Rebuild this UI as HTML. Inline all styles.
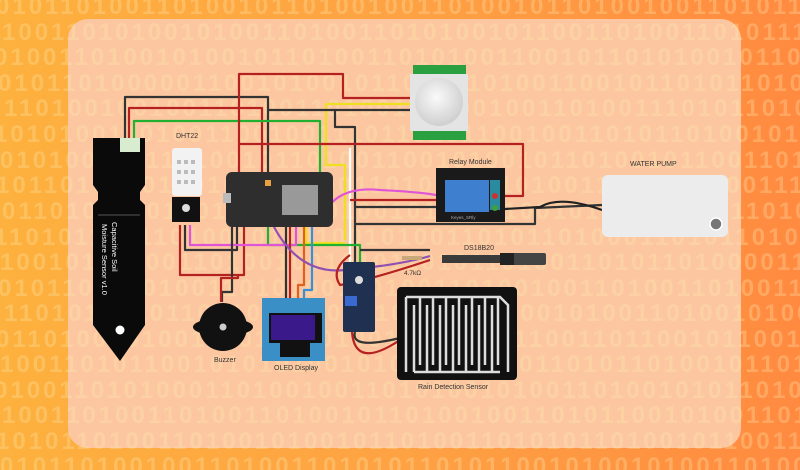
<!DOCTYPE html>
<html><head><meta charset="utf-8"><style>
html,body{margin:0;padding:0;width:800px;height:470px;overflow:hidden}
svg{display:block}
text{font-family:"Liberation Sans",sans-serif}
</style></head><body>
<svg width="800" height="470" viewBox="0 0 800 470" xmlns="http://www.w3.org/2000/svg">
<defs>
<linearGradient id="bg" x1="0" y1="0" x2="1" y2="0">
<stop offset="0" stop-color="#fdb13e"/><stop offset="0.5" stop-color="#fea243"/><stop offset="1" stop-color="#ff8a40"/>
</linearGradient>
<radialGradient id="dome" cx="0.45" cy="0.4" r="0.6"><stop offset="0" stop-color="#fafafa"/><stop offset="1" stop-color="#cfcfcf"/></radialGradient>
</defs>
<rect width="800" height="470" fill="url(#bg)"/>
<rect x="68" y="19" width="673" height="429" rx="20" fill="#fcc7a0"/>
<g font-weight="bold" font-size="24" fill="#ffe9b0" opacity="0.3" letter-spacing="3">
<text x="-4" y="14">0101101001101001011010010011010010110100100110101101</text>
<text x="2" y="40">1001101010010100110100110101001011001101001101011100</text>
<text x="-6" y="65">0100110100101001011010011010100110010110101001011010</text>
<text x="-2" y="91">0101101000001100101001011011010100110010110101101001</text>
<text x="4" y="116">1101001001001101001101001101001001101001110101101010</text>
<text x="-6" y="142">1010100110100110010011101101011001001101011010010110</text>
<text x="0" y="168">0101001101101001011010011001010010110100101100110101</text>
<text x="-4" y="193">1011010010100101010100110101001101001100101010011100</text>
<text x="2" y="219">0110100110100110010101001011010100101011001001101001</text>
<text x="-6" y="245">1101011001101001011010010100110101101000110101101010</text>
<text x="0" y="270">1001011010011010010010101101011010011010110100001101</text>
<text x="-2" y="296">0101100110100110101001101001101001001101001101001101</text>
<text x="4" y="321">1101010010110010110100110101001100101001101001010011</text>
<text x="-4" y="347">0110100101001100101101001101001011001101100101100110</text>
<text x="0" y="372">1001101011001010101001010110101001101011010010110101</text>
<text x="-6" y="398">0100110101000110100100110101001010011010010101101001</text>
<text x="2" y="423">1001101001101001101001011010010011010110010100110100</text>
<text x="-4" y="449">1010110100110100101001011010011010101101001011001101</text>
<text x="0" y="474">0101101001001101001101010110101100101001010011010010</text>
</g>

<!-- wires -->
<g fill="none" stroke-width="2.2" stroke-linejoin="round">
<polyline points="125,140 125,97 268,97 268,172" stroke="#333"/>
<polyline points="129,140 129,108 262,108 262,172" stroke="#b52020"/>
<polyline points="134,140 134,121 320,121 320,172" stroke="#22b030"/>
<polyline points="239,172 239,74 343,74 343,98 410,98" stroke="#b52020"/>
<polyline points="410,104 326,104 326,165 345,165 345,240" stroke="#eee020"/>
<polyline points="410,110 268,110" stroke="#333"/>
<polyline points="335,110 335,127 355,127 355,330" stroke="#333"/>
<polyline points="239,144 523,144 523,196 505,196" stroke="#b52020"/>
<polyline points="350,148 350,330" stroke="#fff"/>
<polyline points="350,200 436,200" stroke="#b52020"/>
<polyline points="355,207 436,207" stroke="#333"/>
<polyline points="355,224 535,224 535,208 602,205" stroke="#333"/>
<path d="M505,209 L540,207 Q560,195 602,210" stroke="#222"/>
<path d="M320,225 Q330,185 380,190 Q420,192 436,195" stroke="#e055d8"/>
<polyline points="306,227 306,243 345,243" stroke="#eee020"/>
<polyline points="268,227 268,245 360,245 360,262" stroke="#22b030"/>
<polyline points="244,227 244,275 180,275 180,225" stroke="#b52020"/>
<polyline points="237,227 237,250 185,250 185,225" stroke="#333"/>
<polyline points="296,227 296,245 190,245 190,225" stroke="#e055d8"/>
<polyline points="232,227 232,292 222,292 222,302" stroke="#333"/>
<polyline points="238,275 238,278 221,278 221,302" stroke="#b52020"/>
<polyline points="286,227 286,300" stroke="#333"/>
<polyline points="290,227 290,300" stroke="#b52020"/>
<polyline points="304,227 304,285 298,285 298,300" stroke="#e06020"/>
<polyline points="312,227 312,290 304,290 304,300" stroke="#3a8fd8"/>
<path d="M274,227 Q300,275 345,270 Q400,265 430,256" stroke="#9050b0"/>
<path d="M350,255 Q330,270 340,285 Q370,280 430,260" stroke="#b52020"/>
<polyline points="360,250 430,250" stroke="#333"/>
<path d="M355,332 Q350,350 400,338" stroke="#333"/>
<path d="M352,332 Q355,370 400,340" stroke="#b52020"/>
</g>

<!-- soil sensor -->
<path d="M93,138 H145 V185 L140,192 V200 L145,205 V325 L120,361 L93,325 V205 L98,200 V192 L93,185 Z" fill="#0a0a0a"/>
<rect x="120" y="138" width="20" height="14" fill="#d8ecd0"/>
<line x1="98" y1="215" x2="140" y2="215" stroke="#555"/>
<text transform="translate(112,222) rotate(90)" font-size="7.5" fill="#fff">Capacitive Soil</text>
<text transform="translate(102,224) rotate(90)" font-size="7.5" fill="#fff">Moisture Sensor v1.0</text>
<circle cx="120" cy="330" r="4.5" fill="#fff"/>
<!-- DHT22 -->
<text x="176" y="138" font-size="7" fill="#333">DHT22</text>
<rect x="172" y="148" width="30" height="48" rx="3" fill="#f2f2f2"/>
<g fill="#bbb"><rect x="177" y="160" width="4" height="4"/><rect x="184" y="160" width="4" height="4"/><rect x="191" y="160" width="4" height="4"/><rect x="177" y="170" width="4" height="4"/><rect x="184" y="170" width="4" height="4"/><rect x="191" y="170" width="4" height="4"/><rect x="177" y="180" width="4" height="4"/><rect x="184" y="180" width="4" height="4"/><rect x="191" y="180" width="4" height="4"/></g>
<rect x="172" y="197" width="28" height="25" fill="#111"/>
<circle cx="186" cy="208" r="4" fill="#ddd"/>
<!-- NodeMCU -->
<rect x="226" y="172" width="107" height="55" rx="6" fill="#2e2e2e"/>
<rect x="282" y="185" width="36" height="30" fill="#999"/>
<rect x="223" y="193" width="8" height="10" fill="#bbb"/>
<rect x="265" y="180" width="6" height="6" fill="#e8a040"/>
<!-- PIR -->
<rect x="413" y="65" width="53" height="10" fill="#2aa040"/>
<rect x="413" y="130" width="53" height="10" fill="#2aa040"/>
<rect x="410" y="74" width="58" height="57" fill="#e4e4e4"/>
<circle cx="439" cy="102" r="24" fill="url(#dome)"/>
<!-- Relay -->
<text x="449" y="164" font-size="7" fill="#333">Relay Module</text>
<rect x="436" y="168" width="69" height="54" fill="#1a1a1a"/>
<rect x="445" y="180" width="44" height="32" fill="#3e7fd0"/>
<rect x="490" y="180" width="10" height="30" fill="#2a8aa0"/>
<circle cx="495" cy="196" r="3" fill="#d03030"/><circle cx="495" cy="208" r="3" fill="#40a040"/>
<text x="451" y="219" font-size="4.5" fill="#aaa">Keyes_SRly</text>
<!-- pump -->
<text x="630" y="166" font-size="7" fill="#333">WATER PUMP</text>
<rect x="602" y="175" width="126" height="62" rx="6" fill="#ececec"/>
<circle cx="716" cy="224" r="6" fill="#777" stroke="#fff" stroke-width="1.5"/>
<!-- DS18B20 -->
<text x="464" y="250" font-size="7" fill="#333">DS18B20</text>
<rect x="442" y="255" width="60" height="8" fill="#3a3a3a"/>
<rect x="500" y="253" width="46" height="12" rx="2" fill="#444"/>
<rect x="500" y="253" width="14" height="12" fill="#222"/>
<rect x="402" y="256" width="20" height="4" fill="#c8a878"/>
<text x="404" y="275" font-size="6.5" fill="#333">4.7kΩ</text>
<!-- rain module -->
<rect x="343" y="262" width="32" height="70" rx="2" fill="#1f3050"/>
<circle cx="359" cy="280" r="4" fill="#ddd"/>
<rect x="345" y="296" width="12" height="10" fill="#3a6ad0"/>
<!-- rain sensor -->
<rect x="397" y="287" width="120" height="93" rx="4" fill="#111"/>
<g stroke="#ddd" stroke-width="2.5" fill="none">
<path d="M406,297 H500 L508,305 V372"/>
<path d="M406,297 V372"/>
<path d="M414,372 V305 M420,297 V365 M427,372 V305 M433,297 V365 M440,372 V305 M446,297 V365 M453,372 V305 M459,297 V365 M466,372 V305 M472,297 V365 M479,372 V305 M485,297 V365 M492,372 V305 M498,297 V365"/>
<path d="M414,372 H500"/>
</g>
<text x="418" y="389" font-size="7" fill="#333">Rain Detection Sensor</text>
<!-- buzzer -->
<ellipse cx="223" cy="327" rx="30" ry="9" fill="#111"/>
<circle cx="223" cy="327" r="24" fill="#111"/>
<circle cx="223" cy="327" r="3.5" fill="#ccc"/>
<text x="214" y="362" font-size="7" fill="#333">Buzzer</text>
<!-- OLED -->
<rect x="262" y="298" width="63" height="63" fill="#3a8fc6"/>
<rect x="269" y="313" width="53" height="30" fill="#111"/>
<rect x="271" y="315" width="44" height="25" fill="#3a1a8a"/>
<rect x="280" y="343" width="30" height="14" fill="#111"/>
<text x="274" y="370" font-size="7" fill="#333">OLED Display</text>
</svg>
</body></html>
